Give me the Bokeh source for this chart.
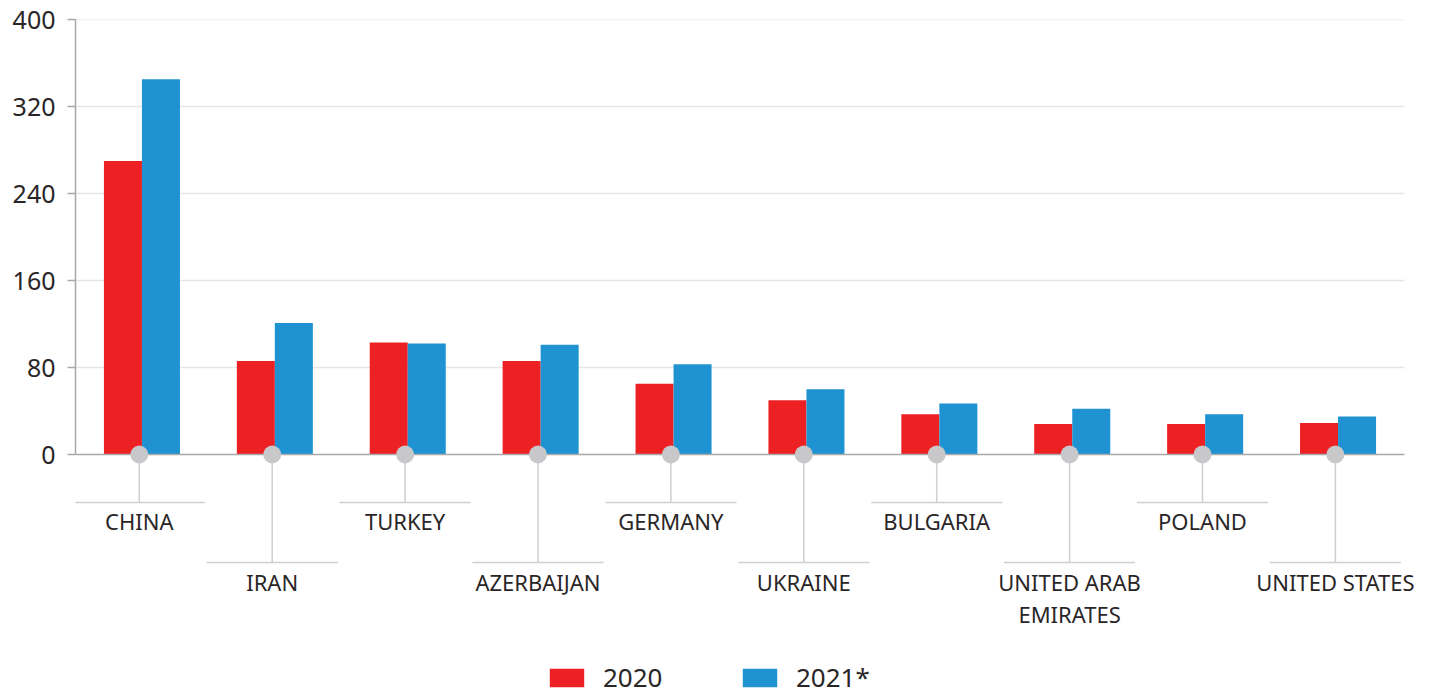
import numpy as np
from bokeh.plotting import figure
from bokeh.models import ColumnDataSource, Range1d, FixedTicker, Legend, LegendItem
from bokeh.transform import dodge
from bokeh.core.properties import value
from bokeh.embed import file_html
from bokeh.resources import INLINE

countries = ["CHINA", "IRAN", "TURKEY", "AZERBAIJAN", "GERMANY", "UKRAINE",
             "BULGARIA", "UNITED ARAB\nEMIRATES", "POLAND", "UNITED STATES"]
values_2020 = [270, 86, 103, 86, 65, 50, 37, 28, 28, 29]
values_2021 = [345, 121, 102, 101, 83, 60, 47, 42, 37, 35]
y_ticks = [0, 80, 160, 240, 320, 400]
series_names = ["2020", "2021*"]

RED = "#ed2024"
BLUE = "#1f93d1"
GREY_LINE = "#cfcfcf"
AXIS_GREY = "#a8a8a8"
TEXT = "#2a2627"
FONT = "Noto Sans"

n = len(countries)
xs = np.arange(n)

W, H = 1433, 695
left, top = 75, 19
px_x = 132.9
px_y = 1.0875
x_end = -0.5 + (W - left) / px_x
y_start = -(H - 454) / px_y

p = figure(width=W, height=H, output_backend="svg", toolbar_location=None,
           x_axis_location=None,
           x_range=Range1d(-0.5, x_end), y_range=Range1d(y_start, 400),
           min_border_left=left, min_border_right=0, min_border_top=top, min_border_bottom=0)
p.outline_line_color = None
p.xgrid.visible = False
p.ygrid.visible = False

ax = p.yaxis[0]
ax.ticker = FixedTicker(ticks=y_ticks)
ax.bounds = (0, 400)
ax.axis_line_color = AXIS_GREY
ax.axis_line_width = 1.5
ax.major_tick_line_color = AXIS_GREY
ax.major_tick_line_width = 1.5
ax.major_tick_out = 8
ax.major_tick_in = 0
ax.minor_tick_line_color = None
ax.major_label_standoff = 12
ax.major_label_text_font = FONT
ax.major_label_text_font_size = "25px"
ax.major_label_text_color = TEXT

# horizontal gridlines spanning the categories only
grid_y = [t for t in y_ticks if t != 0]
p.segment(x0=-0.5, x1=n - 0.5, y0=grid_y, y1=grid_y, line_color="#e6e6e6", line_width=1.5)

# category annotation: stems, horizontal rules, labels
row_rule_y = [-44.1, -99.3]
row_text_y = [-60.7, -117.7]
line_gap = 29.4

cx = xs - 0.02
rows = xs % 2
stem_src = ColumnDataSource(dict(
    x=cx, y1=[row_rule_y[r] for r in rows],
    xl=cx - 0.493, xr=cx + 0.493))
p.segment(x0="x", y0=0, x1="x", y1="y1", source=stem_src, line_color=GREY_LINE, line_width=1.5)
p.segment(x0="xl", y0="y1", x1="xr", y1="y1", source=stem_src, line_color=GREY_LINE, line_width=1.5)

lx, ly, lt = [], [], []
for i, name in enumerate(countries):
    for k, part in enumerate(name.split("\n")):
        lx.append(cx[i])
        ly.append(row_text_y[rows[i]] - k * line_gap)
        lt.append(part)
p.text(x=lx, y=ly, text=lt, text_align="center", text_baseline="alphabetic",
       text_font=value(FONT), text_font_size="22px", text_color=TEXT)

src = ColumnDataSource(dict(x=xs, a=values_2020, b=values_2021))
bw = 0.286
r1 = p.vbar(x=dodge("x", -bw / 2, range=p.x_range), top="a", width=bw, source=src,
            fill_color=RED, line_color=None)
r2 = p.vbar(x=dodge("x", bw / 2, range=p.x_range), top="b", width=bw, source=src,
            fill_color=BLUE, line_color=None)

# baseline at zero
p.segment(x0=-0.5, x1=n - 0.5, y0=0, y1=0, line_color=AXIS_GREY, line_width=1.5)

p.scatter(x=cx, y=[0] * n, size=18, marker="circle", fill_color="#c8c8ca", line_color=None)

legend = Legend(items=[LegendItem(label=series_names[0], renderers=[r1]),
                       LegendItem(label=series_names[1], renderers=[r2])],
                orientation="horizontal", location=(470, 0))
legend.glyph_width = 43
legend.glyph_height = 23
legend.label_standoff = 15
legend.label_width = 135
legend.spacing = 0
legend.padding = 0
legend.margin = 0
legend.border_line_color = None
legend.background_fill_color = None
legend.label_text_font = FONT
legend.label_text_font_size = "26px"
legend.label_text_color = TEXT
p.add_layout(legend)

open("out.html", "w").write(file_html(p, INLINE))
